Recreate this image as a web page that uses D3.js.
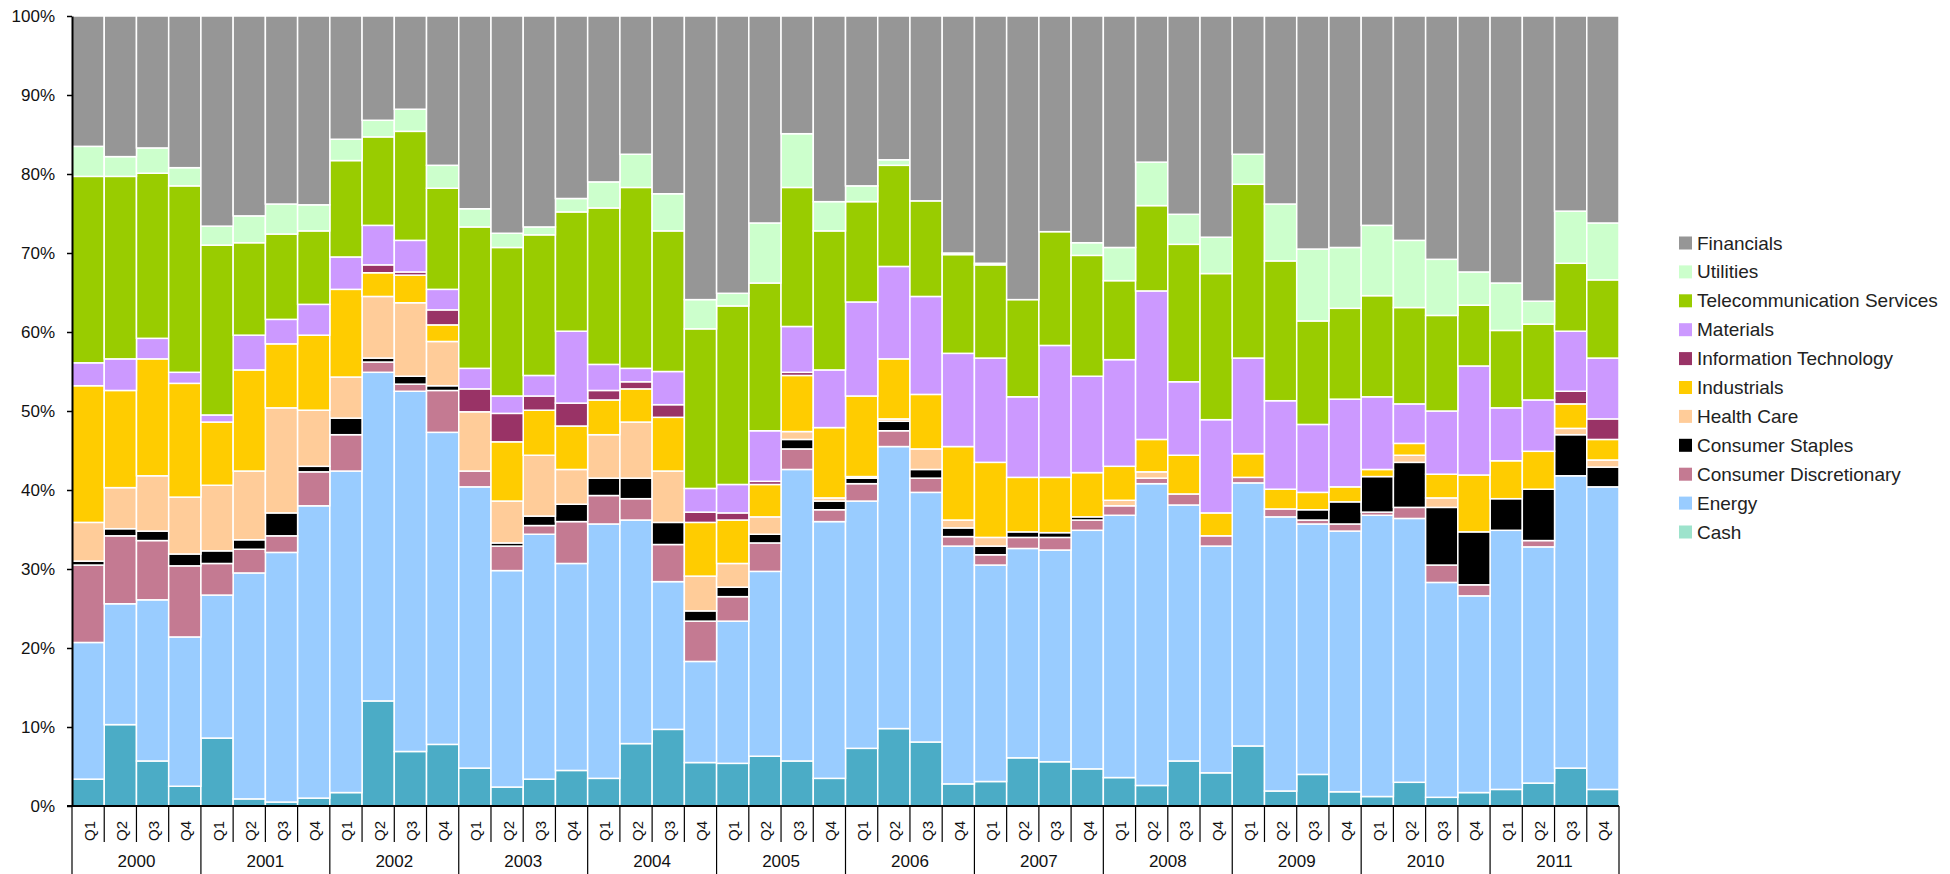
<!DOCTYPE html>
<html><head><meta charset="utf-8">
<script src="https://cdn.jsdelivr.net/npm/d3@7"></script>
<style>body{margin:0;background:#fff;} text{font-family:"Liberation Sans", Arial, sans-serif;}</style>
</head><body><svg id="c" width="1950" height="874"></svg>
<script>
const years = ["2000","2001","2002","2003","2004","2005","2006","2007","2008","2009","2010","2011"];
const quarters = ["Q1","Q2","Q3","Q4"];

const cash = [3.4,10.3,5.7,2.5, 8.6,0.9,0.5,1.0, 1.7,13.3,6.9,7.8, 4.8,2.4,3.4,4.5, 3.5,7.9,9.7,5.5, 5.4,6.3,5.7,3.5, 7.3,9.8,8.1,2.8, 3.1,6.1,5.6,4.7, 3.6,2.6,5.7,4.2, 7.6,1.9,4.0,1.8, 1.2,3.0,1.1,1.7, 2.1,2.9,4.8,2.1];
const energy = [17.3,15.3,20.4,18.9, 18.1,28.6,31.6,37.0, 40.7,41.6,45.6,39.5, 35.6,27.4,31.0,26.2, 32.2,28.3,18.7,12.8, 18.0,23.4,36.9,32.5, 31.3,35.7,31.6,30.1, 27.4,26.5,26.8,30.2, 33.2,38.2,32.4,28.7, 33.3,34.7,31.7,33.0, 35.6,33.4,27.2,24.9, 32.8,29.9,37.0,38.3];
const consumerDiscretionary = [9.8,8.6,7.5,9.0, 4.0,3.0,2.1,4.3, 4.6,1.3,0.9,5.3, 2.0,3.1,1.1,5.3, 3.6,2.7,4.7,5.1, 3.1,3.6,2.6,1.5, 2.2,2.0,1.8,1.2, 1.3,1.4,1.6,1.3, 1.2,0.7,1.4,1.3, 0.7,1.0,0.5,0.9, 0.4,1.4,2.2,1.4, 0,0.8,0,0];
const consumerStaples = [0.5,0.9,1.2,1.5, 1.6,1.2,2.9,0.7, 2.1,0.5,1.0,0.6, 0,0.4,1.2,2.2, 2.2,2.6,2.8,1.3, 1.2,1.1,1.2,1.1, 0.7,1.2,1.1,1.1, 1.1,0.7,0.6,0.4, 0,0,0,0, 0,0,1.3,2.8, 4.5,5.7,7.3,6.7, 4.0,6.5,5.2,2.5];
const healthCare = [4.9,5.2,7.0,7.2, 8.3,8.7,13.3,7.1, 5.2,7.8,9.3,5.6, 7.5,5.3,7.7,4.4, 5.5,7.1,6.5,4.4, 3.0,2.2,1.0,0.4, 0.2,0.3,2.6,1.0, 1.1,0,0,0, 0.7,0.8,0,0, 0,0,0,0, 0,0.9,1.2,0, 0,0,0.8,0.9];
const industrials = [17.3,12.3,14.8,14.4, 8.0,12.8,8.1,9.5, 11.1,3.0,3.5,2.1, 0,7.5,5.7,5.5, 4.4,4.2,6.8,6.8, 5.5,4.1,7.1,8.9, 10.2,7.6,6.9,9.3, 9.5,6.9,7.0,5.6, 4.3,4.1,4.9,2.9, 3.0,2.5,2.2,1.9, 0.9,1.5,3.0,7.2, 4.8,4.8,3.1,2.6];
const infoTech = [0,0,0,0, 0,0,0,0, 0,1.0,0.4,1.9, 2.9,3.6,1.8,2.9, 1.2,0.9,1.6,1.3, 0.9,0.4,0.4,0, 0,0,0,0, 0,0,0,0, 0,0,0,0, 0,0,0,0, 0,0,0,0, 0,0,1.6,2.6];
const materials = [2.9,4.0,2.6,1.4, 0.9,4.4,3.1,3.9, 4.1,5.0,4.0,2.6, 2.6,2.2,2.6,9.1, 3.3,1.7,4.2,3.0, 3.6,6.4,5.8,7.3, 11.9,11.7,12.4,11.8, 13.2,10.2,16.7,12.2, 13.5,18.8,9.3,11.8, 12.1,11.2,8.6,11.1, 9.2,5.0,8.0,13.8, 6.7,6.5,7.6,7.7];
const telecom = [23.6,23.1,20.9,23.6, 21.5,11.7,10.8,9.3, 12.2,11.2,13.8,12.8, 17.9,18.8,17.8,15.1, 19.8,22.9,17.8,20.2, 22.6,18.7,17.6,17.6, 12.7,12.8,12.1,12.5, 11.8,12.3,14.4,15.3, 10.0,10.8,17.4,18.5, 22.0,17.7,13.1,11.5, 12.8,12.2,12.1,7.7, 9.8,9.6,8.6,9.9];
const utilities = [3.8,2.5,3.2,2.3, 2.4,3.4,3.8,3.3, 2.7,2.1,2.8,2.9, 2.3,1.8,1.0,1.7, 3.3,4.2,4.7,3.7, 1.6,7.6,6.8,3.7, 2.0,0.7,0,0.2, 0.2,0,0,1.6, 4.2,5.5,3.8,4.6, 3.8,7.2,9.1,7.7, 8.9,8.5,7.1,4.2, 6.0,2.9,6.6,7.2];
const financials = [16.5,17.8,16.7,19.2, 26.6,25.3,23.8,23.9, 15.6,13.2,11.8,18.9, 24.4,27.5,26.7,23.1, 21.0,17.5,22.5,35.9, 35.1,26.2,14.9,23.5, 21.5,18.2,23.4,30.0, 31.3,35.9,27.3,28.7, 29.3,18.5,25.1,28.0, 17.5,23.8,29.5,29.3, 26.5,28.4,30.8,32.4, 33.8,36.1,24.7,26.2];

const seriesNames = ["Cash","Energy","Consumer Discretionary","Consumer Staples","Health Care","Industrials","Information Technology","Materials","Telecommunication Services","Utilities","Financials"];
const seriesValues = [cash, energy, consumerDiscretionary, consumerStaples, healthCare, industrials, infoTech, materials, telecom, utilities, financials];
const barColors = ["#4bacc6","#99ccff","#c47a92","#000000","#ffcc99","#ffcc00","#993366","#cc99ff","#99cc00","#ccffcc","#969696"];
const legendColors = ["#9de3cc","#99ccff","#c47a92","#000000","#ffcc99","#ffcc00","#993366","#cc99ff","#99cc00","#ccffcc","#969696"];
const yTicks = [0,10,20,30,40,50,60,70,80,90,100];

const cats = [];
years.forEach(y => quarters.forEach(q => cats.push({year:y, q:q, key:y+q})));
const rows = cats.map((c,i) => { const r = {key:c.key}; seriesNames.forEach((s,j)=> r[s] = seriesValues[j][i]); return r; });

const svg = d3.select("#c");
const x = d3.scaleBand().domain(cats.map(c=>c.key)).range([72,1619]).padding(0);
const y = d3.scaleLinear().domain([0,100]).range([806,16]);
const color = d3.scaleOrdinal().domain(seriesNames).range(barColors);

const stack = d3.stack().keys(seriesNames).order(d3.stackOrderNone).offset(d3.stackOffsetNone);
const layers = stack(rows);

svg.append("g").selectAll("g").data(layers).join("g")
  .attr("fill", d => color(d.key))
  .selectAll("rect").data(d => d.filter(p => p[1]-p[0] > 0)).join("rect")
  .attr("x", d => x(d.data.key))
  .attr("width", x.bandwidth())
  .attr("y", d => y(d[1]))
  .attr("height", d => y(d[0]) - y(d[1]))
  .attr("stroke", "#fff").attr("stroke-width", 1.5);

// Y axis
const yAxis = svg.append("g").attr("transform","translate(72,0)")
  .call(d3.axisLeft(y).tickValues(yTicks).tickFormat(d=>d+"%").tickSize(5).tickSizeOuter(0).tickPadding(12));
yAxis.select(".domain").attr("stroke","#000").attr("stroke-width",2);
yAxis.selectAll(".tick line").attr("stroke","#000").attr("stroke-width",1.5);
yAxis.selectAll("text").attr("font-size","17px").attr("fill","#111").attr("font-family",'"Liberation Sans", Arial, sans-serif');

// X axis (multi-level)
const xa = svg.append("g");
xa.append("line").attr("x1",67).attr("x2",x.range()[1]).attr("y1",806).attr("y2",806).attr("stroke","#000").attr("stroke-width",2);
const bounds = cats.map(c=>x(c.key)).concat([x.range()[1]]);
bounds.forEach((bx,i)=>{
  const yearEdge = (i % 4 === 0);
  xa.append("line").attr("x1",bx).attr("x2",bx).attr("y1",806).attr("y2", yearEdge ? 874 : 842)
    .attr("stroke","#000").attr("stroke-width", 1.2);
});
xa.selectAll("text.q").data(cats).join("text").attr("class","q")
  .attr("transform", d => `translate(${x(d.key)+x.bandwidth()/2+1},831) rotate(-90)`)
  .attr("text-anchor","middle").attr("dominant-baseline","central")
  .attr("font-size","15px").attr("fill","#111").text(d=>d.q);
xa.selectAll("text.yr").data(years).join("text").attr("class","yr")
  .attr("x", (d,i) => (x(d+"Q1") + x(d+"Q4") + x.bandwidth())/2)
  .attr("y", 867).attr("text-anchor","middle")
  .attr("font-size","17px").attr("fill","#111").text(d=>d);

// Legend
const legendOrder = seriesNames.map((s,i)=>i).reverse();
const lg = svg.append("g");
legendOrder.forEach((si,k)=>{
  const cy = 243 + k*28.9;
  lg.append("rect").attr("x",1679).attr("y",cy-6.5).attr("width",13).attr("height",13).attr("fill",legendColors[si]);
  lg.append("text").attr("x",1697).attr("y",cy).attr("dominant-baseline","central")
    .attr("font-size","19px").attr("fill","#222").text(seriesNames[si]);
});
</script></body></html>
